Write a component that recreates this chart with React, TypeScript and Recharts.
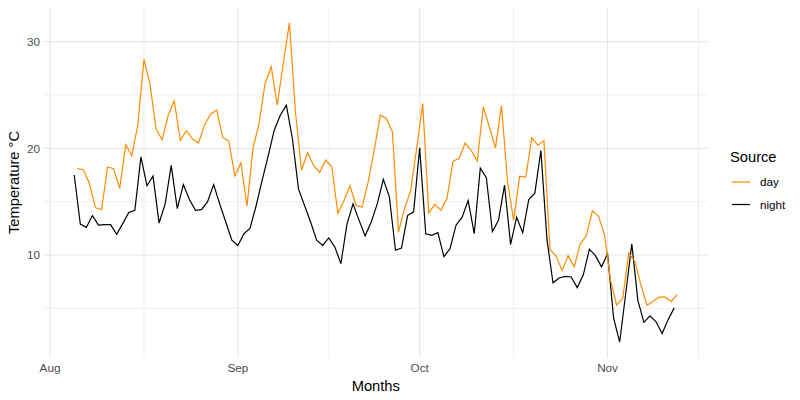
import { CartesianGrid, Line, LineChart, XAxis, YAxis } from "recharts";

// days counted from Aug 1; first reading is Aug 5
const firstDay = 4;
const monthNames = ["Aug", "Sep", "Oct", "Nov"];
const monthStarts = [0, 31, 61, 92];
const monthMids = [15.5, 46, 76.5, 107];
const tempTicks = [10, 20, 30];
const tempMinorTicks = [5, 15, 25];

const dayTemps = [
  18.1, 18.0, 16.7, 14.45, 14.25, 18.25, 18.1, 16.25, 20.35, 19.3,
  22.25, 28.35, 26.0, 21.8, 20.8, 23.1, 24.45, 20.75, 21.65, 20.9,
  20.5, 22.2, 23.2, 23.6, 21.0, 20.7, 17.4, 18.65, 14.6, 20.0,
  22.35, 26.1, 27.65, 24.05, 28.0, 31.75, 23.4, 17.95, 19.6, 18.4,
  17.75, 18.9, 18.25, 13.9, 15.1, 16.5, 14.65, 14.5, 16.85, 19.85,
  23.1, 22.8, 21.55, 12.15, 14.35, 16.0, 20.0, 24.2, 13.95, 14.75,
  14.2, 15.3, 18.8, 19.05, 20.5, 19.8, 18.8, 23.9, 22.0, 20.05,
  24.0, 16.85, 13.25, 17.4, 17.3, 21.0, 20.3, 20.7, 10.5, 9.9,
  8.55, 9.95, 8.9, 11.05, 11.8, 14.15, 13.65, 11.9, 7.6, 5.3,
  5.95, 10.2, 9.4, 7.2, 5.3, 5.65, 6.05, 6.05, 5.65, 6.3,
];

const nightTemps = [
  17.5, 12.9, 12.6, 13.7, 12.8, 12.85, 12.85, 11.95, 12.95, 14.0,
  14.2, 19.2, 16.5, 17.4, 13.0, 14.8, 18.4, 14.35, 16.6, 15.2,
  14.2, 14.25, 15.0, 16.6, 14.8, 13.1, 11.4, 10.9, 12.0, 12.5,
  14.6, 17.0, 19.3, 21.7, 23.1, 24.05, 20.9, 16.2, 14.65, 13.1,
  11.4, 10.9, 11.6, 10.75, 9.2, 12.9, 14.8, 13.25, 11.8, 13.1,
  14.8, 17.1, 15.45, 10.45, 10.65, 13.7, 14.05, 20.05, 12.0, 11.85,
  12.1, 9.85, 10.6, 12.8, 13.55, 15.1, 12.0, 18.15, 17.25, 12.2,
  13.25, 16.55, 11.0, 13.55, 12.1, 15.2, 15.8, 19.8, 11.45, 7.4,
  7.85, 8.0, 7.95, 6.95, 8.15, 10.55, 9.95, 8.9, 10.1, 4.1,
  1.85, 6.4, 11.05, 5.75, 3.7, 4.3, 3.75, 2.65, 3.95, 5.05,
];

const seriesNames = ["day", "night"];
const seriesColors = ["#ff8c00", "#000000"];

// day readings sit half a day after the night ones
const daySeries = dayTemps.map((v, i) => ({ t: firstDay + i + 0.5, v }));
const nightSeries = nightTemps.map((v, i) => ({ t: firstDay + i, v }));

// ggplot style 5% padding
const pad = (lo: number, hi: number): [number, number] => {
  const d = (hi - lo) * 0.05;
  return [lo - d, hi + d];
};
const allT = [...daySeries, ...nightSeries].map((d) => d.t);
const allV = [...dayTemps, ...nightTemps];
const xDomain = pad(Math.min(...allT), Math.max(...allT));
const yDomain = pad(Math.min(...allV), Math.max(...allV));

const font = '"Liberation Sans", Arial, Helvetica, sans-serif';
const tickStyle = { fill: "#4d4d4d", fontSize: 11.7, fontFamily: font };

export default function App() {
  return (
    <div
      style={{
        position: "absolute",
        left: 0,
        top: 0,
        width: 800,
        height: 400,
        background: "#fff",
        fontFamily: font,
      }}
    >
      <LineChart
        width={800}
        height={400}
        margin={{ top: 7, right: 92.6, bottom: 0, left: 0 }}
      >
        <XAxis
          xAxisId="minor"
          type="number"
          dataKey="t"
          domain={xDomain}
          ticks={monthMids}
          allowDataOverflow
          hide
        />
        <YAxis
          yAxisId="minor"
          type="number"
          domain={yDomain}
          ticks={tempMinorTicks}
          allowDataOverflow
          hide
        />
        <CartesianGrid
          xAxisId="minor"
          yAxisId="minor"
          stroke="#ebebeb"
          strokeWidth={0.8}
          syncWithTicks
        />
        <CartesianGrid stroke="#e6e6e6" strokeWidth={1.1} syncWithTicks />
        <XAxis
          type="number"
          dataKey="t"
          domain={xDomain}
          ticks={monthStarts}
          interval={0}
          allowDataOverflow
          tickFormatter={(t: number) => monthNames[monthStarts.indexOf(t)]}
          axisLine={false}
          tickLine={false}
          tickSize={3}
          tickMargin={3}
          height={42}
          tick={tickStyle}
          label={{
            value: "Months",
            position: "insideBottom",
            offset: 9,
            style: { fill: "#000", fontSize: 14.7, fontFamily: font },
          }}
        />
        <YAxis
          type="number"
          domain={yDomain}
          ticks={tempTicks}
          interval={0}
          allowDataOverflow
          axisLine={false}
          tickLine={false}
          tickSize={2}
          tickMargin={2}
          width={44.1}
          tick={tickStyle}
          label={{
            value: "Temperature °C",
            angle: -90,
            position: "insideLeft",
            offset: 14,
            style: {
              fill: "#000",
              fontSize: 14.7,
              fontFamily: font,
              textAnchor: "middle",
            },
          }}
        />
        <Line
          data={nightSeries}
          dataKey="v"
          name="night"
          type="linear"
          stroke={seriesColors[1]}
          strokeWidth={1.2}
          dot={false}
          activeDot={false}
          isAnimationActive={false}
        />
        <Line
          data={daySeries}
          dataKey="v"
          name="day"
          type="linear"
          stroke={seriesColors[0]}
          strokeWidth={1.2}
          dot={false}
          activeDot={false}
          isAnimationActive={false}
        />
      </LineChart>
      <svg
        width={800}
        height={400}
        style={{ position: "absolute", left: 0, top: 0, pointerEvents: "none" }}
      >
        <text x={730} y={162} fontSize={14.7} fontFamily={font} fill="#000">
          Source
        </text>
        {seriesNames.map((name, i) => (
          <g key={name}>
            <line
              x1={732}
              x2={750}
              y1={182 + i * 22.5}
              y2={182 + i * 22.5}
              stroke={seriesColors[i]}
              strokeWidth={1.2}
            />
            <text
              x={760}
              y={186 + i * 22.5}
              fontSize={11.7}
              fontFamily={font}
              fill="#000"
            >
              {name}
            </text>
          </g>
        ))}
      </svg>
    </div>
  );
}
